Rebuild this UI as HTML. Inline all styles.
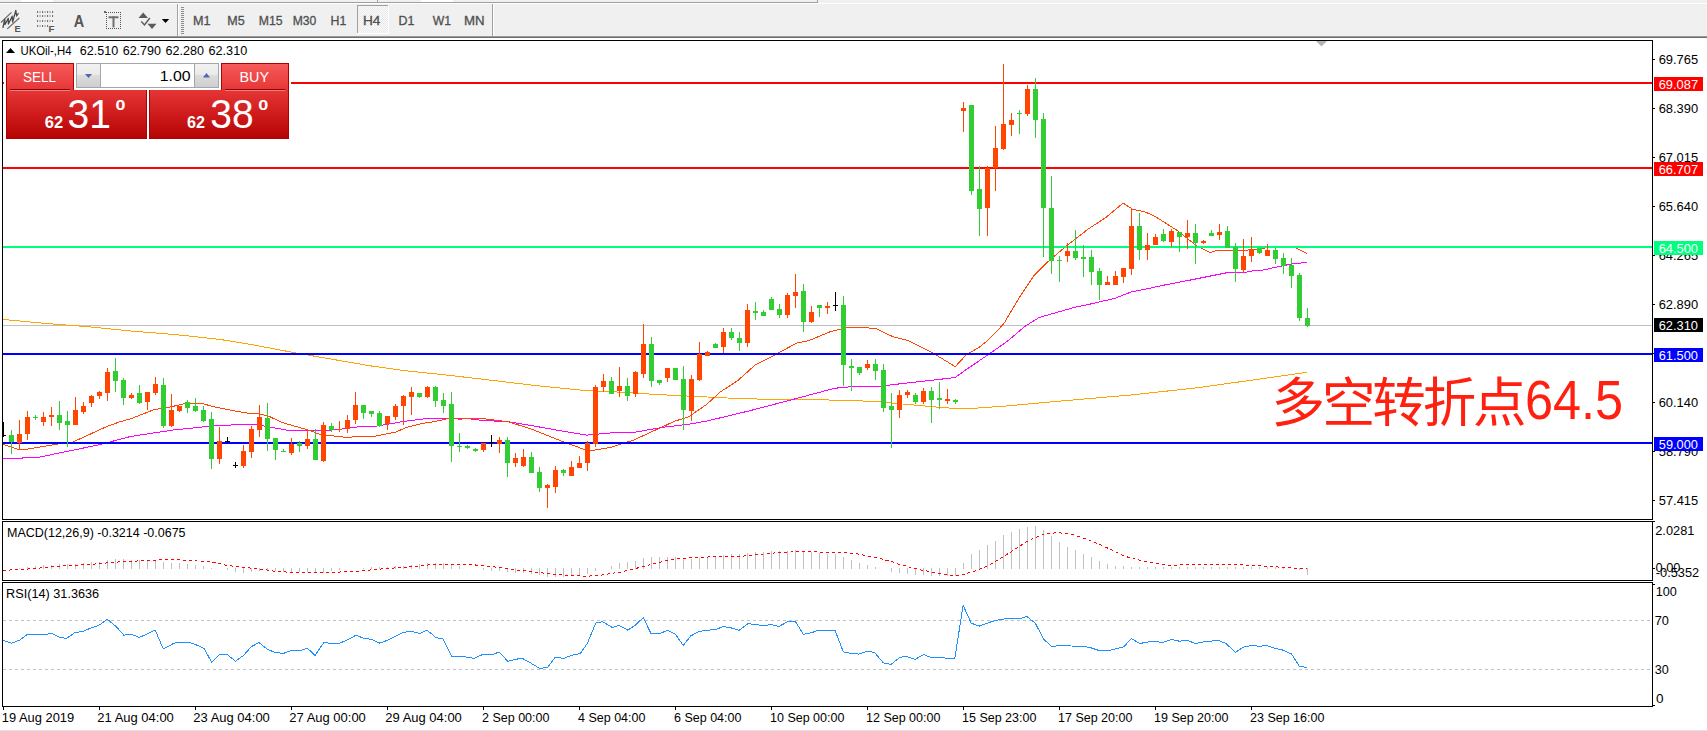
<!DOCTYPE html>
<html><head><meta charset="utf-8"><title>UKOil H4</title>
<style>html,body{margin:0;padding:0;background:#f0f0f0;}body{width:1707px;height:731px;position:relative;overflow:hidden;}</style>
</head><body>
<svg width="1707" height="731" viewBox="0 0 1707 731" style="position:absolute;left:0;top:0" font-family="'Liberation Sans', Arial, sans-serif"><defs><linearGradient id="gTab" x1="0" y1="0" x2="0" y2="1"><stop offset="0" stop-color="#f65a5a"/><stop offset="1" stop-color="#e53535"/></linearGradient><linearGradient id="gBig" x1="0" y1="0" x2="0" y2="1"><stop offset="0" stop-color="#e53636"/><stop offset="0.5" stop-color="#cf1b1b"/><stop offset="1" stop-color="#b50404"/></linearGradient><linearGradient id="gBtn" x1="0" y1="0" x2="0" y2="1"><stop offset="0" stop-color="#f2f2f2"/><stop offset="0.45" stop-color="#ebebeb"/><stop offset="0.5" stop-color="#dcdcdc"/><stop offset="1" stop-color="#cfcfcf"/></linearGradient><pattern id="dith" width="2" height="2" patternUnits="userSpaceOnUse"><rect width="2" height="2" fill="#fbfbfb"/><rect width="1" height="1" fill="#e9e9e9"/><rect x="1" y="1" width="1" height="1" fill="#e9e9e9"/></pattern><clipPath id="clipMain"><rect x="3" y="41" width="1649" height="478"/></clipPath><clipPath id="clipMacd"><rect x="3" y="522" width="1649" height="58"/></clipPath><clipPath id="clipRsi"><rect x="3" y="583" width="1649" height="123"/></clipPath></defs><rect x="0" y="0" width="1707" height="731" fill="#f0f0f0" /><rect x="21" y="0" width="32" height="2" fill="#ffffff" /><rect x="421" y="0" width="32" height="2" fill="#ffffff" /><rect x="0" y="2" width="817" height="1" fill="#a0a0a0" /><rect x="377" y="0" width="1" height="2" fill="#a0a0a0" /><rect x="817" y="0" width="1" height="3" fill="#a0a0a0" /><rect x="0" y="3" width="1707" height="1" fill="#ffffff" /><rect x="0" y="36" width="1707" height="1" fill="#9a9a9a" /><rect x="0" y="37" width="1707" height="1" fill="#6e6e6e" /><rect x="0" y="38" width="1707" height="692" fill="#ffffff" /><rect x="0" y="730" width="1707" height="1" fill="#e3e3e3" /><g clip-path="url(#clipMain)" shape-rendering="crispEdges"><rect x="3" y="325" width="1649" height="1" fill="#c0c0c0" /><polyline points="3.0,319.4 43.9,323.3 87.9,326.7 131.8,331.1 175.7,334.6 219.7,339.4 240.0,342.7 250.0,344.3 295.0,352.8 329.0,358.7 370.0,365.8 402.7,370.4 448.9,375.3 490.0,380.1 533.4,385.3 586.7,390.7 610.0,391.6 656.9,394.5 693.4,396.3 727.4,398.0 768.2,399.4 848.0,400.2 880.3,401.9 902.4,404.0 936.3,407.0 953.3,408.4 975.4,408.2 1006.4,406.0 1069.2,400.3 1134.2,394.7 1199.2,387.5 1264.3,378.4 1306.5,372.4" fill="none" stroke="#ffa500" stroke-width="1" /><polyline points="3.0,458.4 22.0,458.4 23.0,457.4 38.0,457.4 100.0,444.6 120.0,439.3 130.0,436.6 141.3,434.8 173.4,430.0 209.0,426.3 240.0,424.5 256.0,424.5 270.2,427.1 288.0,430.3 325.4,430.7 343.1,428.9 360.0,426.6 377.8,426.0 402.7,421.6 431.1,418.0 463.1,418.0 480.9,420.3 508.5,421.8 533.4,425.9 560.0,430.7 586.7,435.1 610.0,433.0 632.0,432.7 662.2,427.4 690.0,424.0 707.0,421.0 749.5,410.8 792.0,399.7 834.4,388.3 850.0,386.8 880.3,386.1 919.4,381.6 955.0,377.6 965.2,370.3 989.5,353.8 1007.2,341.4 1025.0,326.3 1039.3,317.4 1055.3,312.9 1075.0,307.2 1088.4,304.5 1115.0,298.3 1131.0,292.0 1155.0,287.1 1165.0,284.9 1190.6,280.0 1226.1,272.9 1243.9,272.6 1255.0,270.4 1263.2,270.0 1282.4,265.8 1290.6,264.2 1307.0,262.4" fill="none" stroke="#ff00ff" stroke-width="1" /><polyline points="3.0,444.4 8.0,446.0 12.0,447.3 18.0,449.5 28.0,449.0 60.0,443.7 73.0,442.0 107.0,426.4 120.0,421.8 130.7,418.8 154.7,409.4 168.0,407.6 184.0,403.7 203.6,404.0 216.0,407.2 233.8,410.8 250.0,413.5 259.6,413.8 270.0,416.8 282.7,422.7 307.6,429.8 320.0,434.3 346.7,437.5 360.0,436.3 374.2,436.3 395.6,432.2 406.2,427.4 422.2,423.4 434.7,421.6 448.9,418.4 459.6,419.1 480.0,418.2 494.2,420.0 508.5,421.8 533.4,429.8 560.0,440.5 585.0,449.7 590.0,450.8 610.0,447.6 633.8,440.0 674.7,421.2 688.9,416.7 706.7,404.3 720.0,392.2 737.8,380.6 755.6,364.6 773.4,355.7 796.5,343.2 808.9,340.6 830.3,331.7 847.0,327.5 863.1,327.5 875.6,328.5 893.4,336.9 907.6,340.5 932.5,352.9 955.3,366.6 966.3,354.7 978.8,347.6 987.7,340.5 1003.7,323.9 1019.7,296.9 1033.9,275.6 1047.4,262.2 1067.0,245.4 1088.4,228.9 1106.1,217.3 1123.0,203.1 1132.8,209.3 1145.3,212.0 1155.0,216.4 1178.1,231.1 1195.9,245.3 1210.1,252.5 1217.2,250.2 1242.1,250.2 1254.6,249.8 1265.3,248.0 1295.4,247.8 1307.0,253.5" fill="none" stroke="#ff4500" stroke-width="1" /><rect x="3" y="82" width="1649" height="2" fill="#ff0000" /><rect x="3" y="167" width="1649" height="2" fill="#ff0000" /><rect x="3" y="246" width="1649" height="2" fill="#00ff7f" /><rect x="3" y="353" width="1649" height="2" fill="#0000ff" /><rect x="3" y="442" width="1649" height="2" fill="#0000ff" /><rect x="11" y="430" width="1" height="24" fill="#32cd32" /><rect x="9" y="435" width="5" height="7" fill="#32cd32" /><rect x="19" y="420" width="1" height="29" fill="#ff4500" /><rect x="17" y="434" width="5" height="9" fill="#ff4500" /><rect x="27" y="411" width="1" height="29" fill="#ff4500" /><rect x="25" y="417" width="5" height="17" fill="#ff4500" /><rect x="35" y="415" width="1" height="5" fill="#32cd32" /><rect x="33" y="417" width="5" height="1" fill="#32cd32" /><rect x="43" y="412" width="1" height="14" fill="#ff4500" /><rect x="41" y="417" width="5" height="5" fill="#ff4500" /><rect x="51" y="407" width="1" height="19" fill="#ff4500" /><rect x="49" y="415" width="5" height="2" fill="#ff4500" /><rect x="59" y="401" width="1" height="29" fill="#32cd32" /><rect x="57" y="415" width="5" height="8" fill="#32cd32" /><rect x="67" y="411" width="1" height="36" fill="#32cd32" /><rect x="65" y="421" width="5" height="4" fill="#32cd32" /><rect x="75" y="397" width="1" height="28" fill="#ff4500" /><rect x="73" y="410" width="5" height="15" fill="#ff4500" /><rect x="83" y="402" width="1" height="12" fill="#ff4500" /><rect x="81" y="406" width="5" height="6" fill="#ff4500" /><rect x="91" y="395" width="1" height="12" fill="#ff4500" /><rect x="89" y="396" width="5" height="7" fill="#ff4500" /><rect x="99" y="391" width="1" height="8" fill="#ff4500" /><rect x="97" y="392" width="5" height="4" fill="#ff4500" /><rect x="107" y="368" width="1" height="33" fill="#ff4500" /><rect x="105" y="372" width="5" height="21" fill="#ff4500" /><rect x="115" y="358" width="1" height="34" fill="#32cd32" /><rect x="113" y="371" width="5" height="10" fill="#32cd32" /><rect x="123" y="378" width="1" height="27" fill="#32cd32" /><rect x="121" y="380" width="5" height="18" fill="#32cd32" /><rect x="131" y="393" width="1" height="6" fill="#ff4500" /><rect x="129" y="395" width="5" height="3" fill="#ff4500" /><rect x="139" y="385" width="1" height="19" fill="#32cd32" /><rect x="137" y="393" width="5" height="10" fill="#32cd32" /><rect x="147" y="392" width="1" height="18" fill="#ff4500" /><rect x="145" y="392" width="5" height="10" fill="#ff4500" /><rect x="155" y="377" width="1" height="18" fill="#ff4500" /><rect x="153" y="384" width="5" height="9" fill="#ff4500" /><rect x="163" y="378" width="1" height="50" fill="#32cd32" /><rect x="161" y="385" width="5" height="41" fill="#32cd32" /><rect x="171" y="394" width="1" height="33" fill="#ff4500" /><rect x="169" y="410" width="5" height="16" fill="#ff4500" /><rect x="179" y="406" width="1" height="6" fill="#ff4500" /><rect x="177" y="406" width="5" height="5" fill="#ff4500" /><rect x="187" y="400" width="1" height="13" fill="#32cd32" /><rect x="185" y="402" width="5" height="6" fill="#32cd32" /><rect x="195" y="398" width="1" height="14" fill="#32cd32" /><rect x="193" y="406" width="5" height="5" fill="#32cd32" /><rect x="203" y="406" width="1" height="16" fill="#32cd32" /><rect x="201" y="410" width="5" height="11" fill="#32cd32" /><rect x="211" y="412" width="1" height="57" fill="#32cd32" /><rect x="209" y="419" width="5" height="40" fill="#32cd32" /><rect x="219" y="427" width="1" height="37" fill="#ff4500" /><rect x="217" y="441" width="5" height="18" fill="#ff4500" /><rect x="227" y="437" width="1" height="6" fill="#000000" /><rect x="225" y="441" width="5" height="1" fill="#000000" /><rect x="235" y="462" width="1" height="6" fill="#000000" /><rect x="233" y="465" width="5" height="1" fill="#000000" /><rect x="243" y="445" width="1" height="23" fill="#ff4500" /><rect x="241" y="451" width="5" height="15" fill="#ff4500" /><rect x="251" y="426" width="1" height="32" fill="#ff4500" /><rect x="249" y="429" width="5" height="23" fill="#ff4500" /><rect x="259" y="405" width="1" height="32" fill="#ff4500" /><rect x="257" y="417" width="5" height="13" fill="#ff4500" /><rect x="267" y="403" width="1" height="48" fill="#32cd32" /><rect x="265" y="418" width="5" height="21" fill="#32cd32" /><rect x="275" y="438" width="1" height="22" fill="#32cd32" /><rect x="273" y="438" width="5" height="12" fill="#32cd32" /><rect x="283" y="449" width="1" height="3" fill="#32cd32" /><rect x="281" y="451" width="5" height="1" fill="#32cd32" /><rect x="291" y="438" width="1" height="17" fill="#ff4500" /><rect x="289" y="444" width="5" height="9" fill="#ff4500" /><rect x="299" y="441" width="1" height="11" fill="#32cd32" /><rect x="297" y="443" width="5" height="3" fill="#32cd32" /><rect x="307" y="430" width="1" height="19" fill="#ff4500" /><rect x="305" y="439" width="5" height="7" fill="#ff4500" /><rect x="315" y="429" width="1" height="31" fill="#32cd32" /><rect x="313" y="439" width="5" height="21" fill="#32cd32" /><rect x="323" y="422" width="1" height="40" fill="#ff4500" /><rect x="321" y="425" width="5" height="36" fill="#ff4500" /><rect x="331" y="423" width="1" height="9" fill="#32cd32" /><rect x="329" y="426" width="5" height="4" fill="#32cd32" /><rect x="339" y="421" width="1" height="11" fill="#ff4500" /><rect x="337" y="429" width="5" height="1" fill="#ff4500" /><rect x="347" y="415" width="1" height="18" fill="#ff4500" /><rect x="345" y="420" width="5" height="9" fill="#ff4500" /><rect x="355" y="392" width="1" height="32" fill="#ff4500" /><rect x="353" y="405" width="5" height="15" fill="#ff4500" /><rect x="363" y="405" width="1" height="14" fill="#32cd32" /><rect x="361" y="405" width="5" height="8" fill="#32cd32" /><rect x="371" y="411" width="1" height="6" fill="#32cd32" /><rect x="369" y="411" width="5" height="3" fill="#32cd32" /><rect x="379" y="411" width="1" height="16" fill="#32cd32" /><rect x="377" y="413" width="5" height="13" fill="#32cd32" /><rect x="387" y="416" width="1" height="14" fill="#ff4500" /><rect x="385" y="416" width="5" height="8" fill="#ff4500" /><rect x="395" y="404" width="1" height="16" fill="#ff4500" /><rect x="393" y="406" width="5" height="11" fill="#ff4500" /><rect x="403" y="395" width="1" height="30" fill="#ff4500" /><rect x="401" y="396" width="5" height="10" fill="#ff4500" /><rect x="411" y="387" width="1" height="28" fill="#ff4500" /><rect x="409" y="392" width="5" height="5" fill="#ff4500" /><rect x="419" y="393" width="1" height="5" fill="#32cd32" /><rect x="417" y="393" width="5" height="4" fill="#32cd32" /><rect x="427" y="386" width="1" height="12" fill="#ff4500" /><rect x="425" y="387" width="5" height="10" fill="#ff4500" /><rect x="435" y="386" width="1" height="21" fill="#32cd32" /><rect x="433" y="387" width="5" height="14" fill="#32cd32" /><rect x="443" y="393" width="1" height="20" fill="#32cd32" /><rect x="441" y="400" width="5" height="6" fill="#32cd32" /><rect x="451" y="392" width="1" height="70" fill="#32cd32" /><rect x="449" y="404" width="5" height="42" fill="#32cd32" /><rect x="459" y="433" width="1" height="19" fill="#32cd32" /><rect x="457" y="446" width="5" height="1" fill="#32cd32" /><rect x="467" y="445" width="1" height="4" fill="#32cd32" /><rect x="465" y="446" width="5" height="2" fill="#32cd32" /><rect x="475" y="448" width="1" height="4" fill="#32cd32" /><rect x="473" y="449" width="5" height="2" fill="#32cd32" /><rect x="483" y="443" width="1" height="9" fill="#ff4500" /><rect x="481" y="443" width="5" height="7" fill="#ff4500" /><rect x="491" y="435" width="1" height="12" fill="#000000" /><rect x="489" y="442" width="5" height="1" fill="#000000" /><rect x="499" y="437" width="1" height="16" fill="#ff4500" /><rect x="497" y="440" width="5" height="4" fill="#ff4500" /><rect x="507" y="437" width="1" height="40" fill="#32cd32" /><rect x="505" y="440" width="5" height="23" fill="#32cd32" /><rect x="515" y="453" width="1" height="14" fill="#ff4500" /><rect x="513" y="458" width="5" height="5" fill="#ff4500" /><rect x="523" y="449" width="1" height="18" fill="#ff4500" /><rect x="521" y="457" width="5" height="9" fill="#ff4500" /><rect x="531" y="452" width="1" height="21" fill="#32cd32" /><rect x="529" y="457" width="5" height="16" fill="#32cd32" /><rect x="539" y="467" width="1" height="25" fill="#32cd32" /><rect x="537" y="472" width="5" height="16" fill="#32cd32" /><rect x="547" y="484" width="1" height="24" fill="#ff4500" /><rect x="545" y="485" width="5" height="3" fill="#ff4500" /><rect x="555" y="466" width="1" height="27" fill="#ff4500" /><rect x="553" y="470" width="5" height="17" fill="#ff4500" /><rect x="563" y="469" width="1" height="7" fill="#32cd32" /><rect x="561" y="470" width="5" height="3" fill="#32cd32" /><rect x="571" y="461" width="1" height="15" fill="#ff4500" /><rect x="569" y="467" width="5" height="9" fill="#ff4500" /><rect x="579" y="456" width="1" height="12" fill="#ff4500" /><rect x="577" y="463" width="5" height="5" fill="#ff4500" /><rect x="587" y="441" width="1" height="30" fill="#ff4500" /><rect x="585" y="443" width="5" height="20" fill="#ff4500" /><rect x="595" y="385" width="1" height="62" fill="#ff4500" /><rect x="593" y="387" width="5" height="57" fill="#ff4500" /><rect x="603" y="374" width="1" height="18" fill="#ff4500" /><rect x="601" y="381" width="5" height="6" fill="#ff4500" /><rect x="611" y="377" width="1" height="17" fill="#32cd32" /><rect x="609" y="381" width="5" height="13" fill="#32cd32" /><rect x="619" y="367" width="1" height="30" fill="#ff4500" /><rect x="617" y="386" width="5" height="5" fill="#ff4500" /><rect x="627" y="378" width="1" height="23" fill="#32cd32" /><rect x="625" y="386" width="5" height="10" fill="#32cd32" /><rect x="635" y="371" width="1" height="26" fill="#ff4500" /><rect x="633" y="372" width="5" height="22" fill="#ff4500" /><rect x="643" y="324" width="1" height="54" fill="#ff4500" /><rect x="641" y="344" width="5" height="30" fill="#ff4500" /><rect x="651" y="337" width="1" height="50" fill="#32cd32" /><rect x="649" y="344" width="5" height="37" fill="#32cd32" /><rect x="659" y="380" width="1" height="5" fill="#32cd32" /><rect x="657" y="380" width="5" height="3" fill="#32cd32" /><rect x="667" y="368" width="1" height="14" fill="#ff4500" /><rect x="665" y="368" width="5" height="10" fill="#ff4500" /><rect x="675" y="368" width="1" height="12" fill="#32cd32" /><rect x="673" y="368" width="5" height="12" fill="#32cd32" /><rect x="683" y="366" width="1" height="64" fill="#32cd32" /><rect x="681" y="379" width="5" height="31" fill="#32cd32" /><rect x="691" y="375" width="1" height="46" fill="#ff4500" /><rect x="689" y="379" width="5" height="32" fill="#ff4500" /><rect x="699" y="342" width="1" height="39" fill="#ff4500" /><rect x="697" y="354" width="5" height="26" fill="#ff4500" /><rect x="707" y="351" width="1" height="5" fill="#ff4500" /><rect x="705" y="352" width="5" height="4" fill="#ff4500" /><rect x="715" y="343" width="1" height="5" fill="#32cd32" /><rect x="713" y="344" width="5" height="4" fill="#32cd32" /><rect x="723" y="328" width="1" height="25" fill="#ff4500" /><rect x="721" y="332" width="5" height="15" fill="#ff4500" /><rect x="731" y="328" width="1" height="12" fill="#32cd32" /><rect x="729" y="332" width="5" height="6" fill="#32cd32" /><rect x="739" y="332" width="1" height="19" fill="#32cd32" /><rect x="737" y="338" width="5" height="5" fill="#32cd32" /><rect x="747" y="304" width="1" height="43" fill="#ff4500" /><rect x="745" y="310" width="5" height="33" fill="#ff4500" /><rect x="755" y="302" width="1" height="18" fill="#32cd32" /><rect x="753" y="311" width="5" height="2" fill="#32cd32" /><rect x="763" y="310" width="1" height="6" fill="#32cd32" /><rect x="761" y="312" width="5" height="4" fill="#32cd32" /><rect x="771" y="297" width="1" height="13" fill="#32cd32" /><rect x="769" y="299" width="5" height="11" fill="#32cd32" /><rect x="779" y="304" width="1" height="14" fill="#32cd32" /><rect x="777" y="309" width="5" height="6" fill="#32cd32" /><rect x="787" y="293" width="1" height="25" fill="#ff4500" /><rect x="785" y="295" width="5" height="20" fill="#ff4500" /><rect x="795" y="274" width="1" height="34" fill="#ff4500" /><rect x="793" y="292" width="5" height="4" fill="#ff4500" /><rect x="803" y="284" width="1" height="48" fill="#32cd32" /><rect x="801" y="291" width="5" height="31" fill="#32cd32" /><rect x="811" y="306" width="1" height="17" fill="#ff4500" /><rect x="809" y="312" width="5" height="10" fill="#ff4500" /><rect x="819" y="305" width="1" height="12" fill="#32cd32" /><rect x="817" y="305" width="5" height="3" fill="#32cd32" /><rect x="827" y="302" width="1" height="12" fill="#ff4500" /><rect x="825" y="306" width="5" height="2" fill="#ff4500" /><rect x="835" y="292" width="1" height="19" fill="#000000" /><rect x="833" y="305" width="5" height="1" fill="#000000" /><rect x="843" y="296" width="1" height="90" fill="#32cd32" /><rect x="841" y="305" width="5" height="60" fill="#32cd32" /><rect x="851" y="359" width="1" height="32" fill="#32cd32" /><rect x="849" y="366" width="5" height="2" fill="#32cd32" /><rect x="859" y="367" width="1" height="8" fill="#32cd32" /><rect x="857" y="367" width="5" height="6" fill="#32cd32" /><rect x="867" y="360" width="1" height="10" fill="#ff4500" /><rect x="865" y="364" width="5" height="4" fill="#ff4500" /><rect x="875" y="359" width="1" height="21" fill="#32cd32" /><rect x="873" y="364" width="5" height="7" fill="#32cd32" /><rect x="883" y="364" width="1" height="48" fill="#32cd32" /><rect x="881" y="370" width="5" height="38" fill="#32cd32" /><rect x="891" y="393" width="1" height="55" fill="#32cd32" /><rect x="889" y="406" width="5" height="4" fill="#32cd32" /><rect x="899" y="390" width="1" height="28" fill="#ff4500" /><rect x="897" y="395" width="5" height="15" fill="#ff4500" /><rect x="907" y="390" width="1" height="8" fill="#ff4500" /><rect x="905" y="392" width="5" height="3" fill="#ff4500" /><rect x="915" y="393" width="1" height="11" fill="#32cd32" /><rect x="913" y="395" width="5" height="7" fill="#32cd32" /><rect x="923" y="388" width="1" height="16" fill="#ff4500" /><rect x="921" y="391" width="5" height="11" fill="#ff4500" /><rect x="931" y="387" width="1" height="36" fill="#32cd32" /><rect x="929" y="391" width="5" height="9" fill="#32cd32" /><rect x="939" y="382" width="1" height="27" fill="#32cd32" /><rect x="937" y="398" width="5" height="2" fill="#32cd32" /><rect x="947" y="389" width="1" height="15" fill="#ff4500" /><rect x="945" y="399" width="5" height="2" fill="#ff4500" /><rect x="955" y="399" width="1" height="5" fill="#32cd32" /><rect x="953" y="400" width="5" height="2" fill="#32cd32" /><rect x="963" y="102" width="1" height="30" fill="#ff4500" /><rect x="961" y="108" width="5" height="3" fill="#ff4500" /><rect x="971" y="105" width="1" height="90" fill="#32cd32" /><rect x="969" y="105" width="5" height="86" fill="#32cd32" /><rect x="979" y="166" width="1" height="70" fill="#32cd32" /><rect x="977" y="189" width="5" height="20" fill="#32cd32" /><rect x="987" y="166" width="1" height="70" fill="#ff4500" /><rect x="985" y="168" width="5" height="40" fill="#ff4500" /><rect x="995" y="126" width="1" height="65" fill="#ff4500" /><rect x="993" y="148" width="5" height="20" fill="#ff4500" /><rect x="1003" y="64" width="1" height="86" fill="#ff4500" /><rect x="1001" y="124" width="5" height="25" fill="#ff4500" /><rect x="1011" y="113" width="1" height="23" fill="#ff4500" /><rect x="1009" y="120" width="5" height="5" fill="#ff4500" /><rect x="1019" y="110" width="1" height="24" fill="#32cd32" /><rect x="1017" y="113" width="5" height="1" fill="#32cd32" /><rect x="1027" y="85" width="1" height="31" fill="#ff4500" /><rect x="1025" y="89" width="5" height="25" fill="#ff4500" /><rect x="1035" y="78" width="1" height="60" fill="#32cd32" /><rect x="1033" y="89" width="5" height="31" fill="#32cd32" /><rect x="1043" y="113" width="1" height="144" fill="#32cd32" /><rect x="1041" y="119" width="5" height="89" fill="#32cd32" /><rect x="1051" y="176" width="1" height="98" fill="#32cd32" /><rect x="1049" y="208" width="5" height="53" fill="#32cd32" /><rect x="1059" y="256" width="1" height="26" fill="#32cd32" /><rect x="1057" y="260" width="5" height="1" fill="#32cd32" /><rect x="1067" y="243" width="1" height="19" fill="#ff4500" /><rect x="1065" y="251" width="5" height="5" fill="#ff4500" /><rect x="1075" y="230" width="1" height="30" fill="#32cd32" /><rect x="1073" y="251" width="5" height="7" fill="#32cd32" /><rect x="1083" y="245" width="1" height="32" fill="#32cd32" /><rect x="1081" y="257" width="5" height="2" fill="#32cd32" /><rect x="1091" y="250" width="1" height="35" fill="#32cd32" /><rect x="1089" y="257" width="5" height="15" fill="#32cd32" /><rect x="1099" y="268" width="1" height="32" fill="#32cd32" /><rect x="1097" y="271" width="5" height="14" fill="#32cd32" /><rect x="1107" y="276" width="1" height="9" fill="#ff4500" /><rect x="1105" y="282" width="5" height="3" fill="#ff4500" /><rect x="1115" y="271" width="1" height="14" fill="#ff4500" /><rect x="1113" y="276" width="5" height="9" fill="#ff4500" /><rect x="1123" y="268" width="1" height="15" fill="#ff4500" /><rect x="1121" y="268" width="5" height="9" fill="#ff4500" /><rect x="1131" y="208" width="1" height="67" fill="#ff4500" /><rect x="1129" y="226" width="5" height="43" fill="#ff4500" /><rect x="1139" y="213" width="1" height="47" fill="#32cd32" /><rect x="1137" y="226" width="5" height="24" fill="#32cd32" /><rect x="1147" y="233" width="1" height="27" fill="#ff4500" /><rect x="1145" y="245" width="5" height="5" fill="#ff4500" /><rect x="1155" y="234" width="1" height="11" fill="#ff4500" /><rect x="1153" y="237" width="5" height="8" fill="#ff4500" /><rect x="1163" y="229" width="1" height="13" fill="#32cd32" /><rect x="1161" y="234" width="5" height="7" fill="#32cd32" /><rect x="1171" y="229" width="1" height="18" fill="#ff4500" /><rect x="1169" y="231" width="5" height="11" fill="#ff4500" /><rect x="1179" y="232" width="1" height="20" fill="#32cd32" /><rect x="1177" y="232" width="5" height="5" fill="#32cd32" /><rect x="1187" y="220" width="1" height="29" fill="#ff4500" /><rect x="1185" y="233" width="5" height="4" fill="#ff4500" /><rect x="1195" y="224" width="1" height="40" fill="#32cd32" /><rect x="1193" y="233" width="5" height="10" fill="#32cd32" /><rect x="1203" y="240" width="1" height="4" fill="#ff4500" /><rect x="1201" y="241" width="5" height="2" fill="#ff4500" /><rect x="1211" y="230" width="1" height="6" fill="#32cd32" /><rect x="1209" y="233" width="5" height="3" fill="#32cd32" /><rect x="1219" y="224" width="1" height="16" fill="#ff4500" /><rect x="1217" y="232" width="5" height="3" fill="#ff4500" /><rect x="1227" y="226" width="1" height="22" fill="#32cd32" /><rect x="1225" y="231" width="5" height="17" fill="#32cd32" /><rect x="1235" y="243" width="1" height="39" fill="#32cd32" /><rect x="1233" y="247" width="5" height="22" fill="#32cd32" /><rect x="1243" y="239" width="1" height="34" fill="#ff4500" /><rect x="1241" y="256" width="5" height="14" fill="#ff4500" /><rect x="1251" y="237" width="1" height="25" fill="#ff4500" /><rect x="1249" y="249" width="5" height="7" fill="#ff4500" /><rect x="1259" y="247" width="1" height="7" fill="#32cd32" /><rect x="1257" y="248" width="5" height="5" fill="#32cd32" /><rect x="1267" y="244" width="1" height="12" fill="#ff4500" /><rect x="1265" y="250" width="5" height="6" fill="#ff4500" /><rect x="1275" y="248" width="1" height="16" fill="#32cd32" /><rect x="1273" y="250" width="5" height="9" fill="#32cd32" /><rect x="1283" y="253" width="1" height="21" fill="#32cd32" /><rect x="1281" y="258" width="5" height="8" fill="#32cd32" /><rect x="1291" y="258" width="1" height="30" fill="#32cd32" /><rect x="1289" y="265" width="5" height="11" fill="#32cd32" /><rect x="1299" y="273" width="1" height="48" fill="#32cd32" /><rect x="1297" y="275" width="5" height="43" fill="#32cd32" /><rect x="1307" y="308" width="1" height="19" fill="#32cd32" /><rect x="1305" y="318" width="5" height="8" fill="#32cd32" /><rect x="3" y="422" width="1" height="15" fill="#000" /><rect x="3" y="435" width="3" height="1" fill="#000" /></g><polygon points="1316,41 1327,41 1321.5,46.5" fill="#b4b4b4"/><g clip-path="url(#clipMacd)" shape-rendering="crispEdges"><rect x="19" y="568" width="1" height="1" fill="#c0c0c0" /><rect x="27" y="567" width="1" height="2" fill="#c0c0c0" /><rect x="35" y="566" width="1" height="3" fill="#c0c0c0" /><rect x="43" y="565" width="1" height="4" fill="#c0c0c0" /><rect x="51" y="565" width="1" height="4" fill="#c0c0c0" /><rect x="59" y="564" width="1" height="5" fill="#c0c0c0" /><rect x="67" y="564" width="1" height="5" fill="#c0c0c0" /><rect x="75" y="564" width="1" height="5" fill="#c0c0c0" /><rect x="83" y="563" width="1" height="6" fill="#c0c0c0" /><rect x="91" y="562" width="1" height="7" fill="#c0c0c0" /><rect x="99" y="562" width="1" height="7" fill="#c0c0c0" /><rect x="107" y="560" width="1" height="9" fill="#c0c0c0" /><rect x="115" y="559" width="1" height="10" fill="#c0c0c0" /><rect x="123" y="559" width="1" height="10" fill="#c0c0c0" /><rect x="131" y="560" width="1" height="9" fill="#c0c0c0" /><rect x="139" y="560" width="1" height="9" fill="#c0c0c0" /><rect x="147" y="560" width="1" height="9" fill="#c0c0c0" /><rect x="155" y="560" width="1" height="9" fill="#c0c0c0" /><rect x="163" y="562" width="1" height="7" fill="#c0c0c0" /><rect x="171" y="563" width="1" height="6" fill="#c0c0c0" /><rect x="179" y="563" width="1" height="6" fill="#c0c0c0" /><rect x="187" y="564" width="1" height="5" fill="#c0c0c0" /><rect x="195" y="565" width="1" height="4" fill="#c0c0c0" /><rect x="203" y="566" width="1" height="3" fill="#c0c0c0" /><rect x="211" y="568" width="1" height="1" fill="#c0c0c0" /><rect x="227" y="568" width="1" height="2" fill="#c0c0c0" /><rect x="235" y="568" width="1" height="4" fill="#c0c0c0" /><rect x="243" y="568" width="1" height="5" fill="#c0c0c0" /><rect x="251" y="568" width="1" height="4" fill="#c0c0c0" /><rect x="259" y="568" width="1" height="3" fill="#c0c0c0" /><rect x="267" y="568" width="1" height="2" fill="#c0c0c0" /><rect x="275" y="568" width="1" height="3" fill="#c0c0c0" /><rect x="283" y="568" width="1" height="4" fill="#c0c0c0" /><rect x="291" y="568" width="1" height="5" fill="#c0c0c0" /><rect x="299" y="568" width="1" height="4" fill="#c0c0c0" /><rect x="307" y="568" width="1" height="4" fill="#c0c0c0" /><rect x="315" y="568" width="1" height="5" fill="#c0c0c0" /><rect x="323" y="568" width="1" height="5" fill="#c0c0c0" /><rect x="331" y="568" width="1" height="3" fill="#c0c0c0" /><rect x="339" y="568" width="1" height="2" fill="#c0c0c0" /><rect x="363" y="568" width="1" height="1" fill="#c0c0c0" /><rect x="371" y="567" width="1" height="2" fill="#c0c0c0" /><rect x="379" y="567" width="1" height="2" fill="#c0c0c0" /><rect x="387" y="567" width="1" height="2" fill="#c0c0c0" /><rect x="395" y="566" width="1" height="3" fill="#c0c0c0" /><rect x="403" y="566" width="1" height="3" fill="#c0c0c0" /><rect x="411" y="565" width="1" height="4" fill="#c0c0c0" /><rect x="419" y="564" width="1" height="5" fill="#c0c0c0" /><rect x="427" y="563" width="1" height="6" fill="#c0c0c0" /><rect x="435" y="563" width="1" height="6" fill="#c0c0c0" /><rect x="443" y="563" width="1" height="6" fill="#c0c0c0" /><rect x="451" y="565" width="1" height="4" fill="#c0c0c0" /><rect x="459" y="566" width="1" height="3" fill="#c0c0c0" /><rect x="483" y="568" width="1" height="2" fill="#c0c0c0" /><rect x="491" y="568" width="1" height="3" fill="#c0c0c0" /><rect x="499" y="568" width="1" height="3" fill="#c0c0c0" /><rect x="507" y="568" width="1" height="4" fill="#c0c0c0" /><rect x="515" y="568" width="1" height="5" fill="#c0c0c0" /><rect x="523" y="568" width="1" height="5" fill="#c0c0c0" /><rect x="531" y="568" width="1" height="6" fill="#c0c0c0" /><rect x="539" y="568" width="1" height="7" fill="#c0c0c0" /><rect x="547" y="568" width="1" height="9" fill="#c0c0c0" /><rect x="555" y="568" width="1" height="9" fill="#c0c0c0" /><rect x="563" y="568" width="1" height="9" fill="#c0c0c0" /><rect x="571" y="568" width="1" height="8" fill="#c0c0c0" /><rect x="579" y="568" width="1" height="8" fill="#c0c0c0" /><rect x="587" y="568" width="1" height="6" fill="#c0c0c0" /><rect x="595" y="568" width="1" height="3" fill="#c0c0c0" /><rect x="611" y="566" width="1" height="3" fill="#c0c0c0" /><rect x="619" y="563" width="1" height="6" fill="#c0c0c0" /><rect x="627" y="562" width="1" height="7" fill="#c0c0c0" /><rect x="635" y="561" width="1" height="8" fill="#c0c0c0" /><rect x="643" y="558" width="1" height="11" fill="#c0c0c0" /><rect x="651" y="557" width="1" height="12" fill="#c0c0c0" /><rect x="659" y="557" width="1" height="12" fill="#c0c0c0" /><rect x="667" y="557" width="1" height="12" fill="#c0c0c0" /><rect x="675" y="557" width="1" height="12" fill="#c0c0c0" /><rect x="683" y="558" width="1" height="11" fill="#c0c0c0" /><rect x="691" y="559" width="1" height="10" fill="#c0c0c0" /><rect x="699" y="558" width="1" height="11" fill="#c0c0c0" /><rect x="707" y="558" width="1" height="11" fill="#c0c0c0" /><rect x="715" y="556" width="1" height="13" fill="#c0c0c0" /><rect x="723" y="555" width="1" height="14" fill="#c0c0c0" /><rect x="731" y="554" width="1" height="15" fill="#c0c0c0" /><rect x="739" y="554" width="1" height="15" fill="#c0c0c0" /><rect x="747" y="553" width="1" height="16" fill="#c0c0c0" /><rect x="755" y="552" width="1" height="17" fill="#c0c0c0" /><rect x="763" y="552" width="1" height="17" fill="#c0c0c0" /><rect x="771" y="551" width="1" height="18" fill="#c0c0c0" /><rect x="779" y="551" width="1" height="18" fill="#c0c0c0" /><rect x="787" y="551" width="1" height="18" fill="#c0c0c0" /><rect x="795" y="550" width="1" height="19" fill="#c0c0c0" /><rect x="803" y="551" width="1" height="18" fill="#c0c0c0" /><rect x="811" y="552" width="1" height="17" fill="#c0c0c0" /><rect x="819" y="553" width="1" height="16" fill="#c0c0c0" /><rect x="827" y="554" width="1" height="15" fill="#c0c0c0" /><rect x="835" y="554" width="1" height="15" fill="#c0c0c0" /><rect x="843" y="557" width="1" height="12" fill="#c0c0c0" /><rect x="851" y="560" width="1" height="9" fill="#c0c0c0" /><rect x="859" y="563" width="1" height="6" fill="#c0c0c0" /><rect x="867" y="565" width="1" height="4" fill="#c0c0c0" /><rect x="875" y="567" width="1" height="2" fill="#c0c0c0" /><rect x="891" y="568" width="1" height="4" fill="#c0c0c0" /><rect x="899" y="568" width="1" height="5" fill="#c0c0c0" /><rect x="907" y="568" width="1" height="6" fill="#c0c0c0" /><rect x="915" y="568" width="1" height="7" fill="#c0c0c0" /><rect x="923" y="568" width="1" height="7" fill="#c0c0c0" /><rect x="931" y="568" width="1" height="8" fill="#c0c0c0" /><rect x="939" y="568" width="1" height="8" fill="#c0c0c0" /><rect x="947" y="568" width="1" height="8" fill="#c0c0c0" /><rect x="955" y="568" width="1" height="8" fill="#c0c0c0" /><rect x="963" y="563" width="1" height="6" fill="#c0c0c0" /><rect x="971" y="554" width="1" height="15" fill="#c0c0c0" /><rect x="979" y="550" width="1" height="19" fill="#c0c0c0" /><rect x="987" y="545" width="1" height="24" fill="#c0c0c0" /><rect x="995" y="541" width="1" height="28" fill="#c0c0c0" /><rect x="1003" y="535" width="1" height="34" fill="#c0c0c0" /><rect x="1011" y="532" width="1" height="37" fill="#c0c0c0" /><rect x="1019" y="529" width="1" height="40" fill="#c0c0c0" /><rect x="1027" y="527" width="1" height="42" fill="#c0c0c0" /><rect x="1035" y="526" width="1" height="43" fill="#c0c0c0" /><rect x="1043" y="530" width="1" height="39" fill="#c0c0c0" /><rect x="1051" y="536" width="1" height="33" fill="#c0c0c0" /><rect x="1059" y="542" width="1" height="27" fill="#c0c0c0" /><rect x="1067" y="547" width="1" height="22" fill="#c0c0c0" /><rect x="1075" y="550" width="1" height="19" fill="#c0c0c0" /><rect x="1083" y="554" width="1" height="15" fill="#c0c0c0" /><rect x="1091" y="557" width="1" height="12" fill="#c0c0c0" /><rect x="1099" y="561" width="1" height="8" fill="#c0c0c0" /><rect x="1107" y="564" width="1" height="5" fill="#c0c0c0" /><rect x="1115" y="566" width="1" height="3" fill="#c0c0c0" /><rect x="1123" y="566" width="1" height="3" fill="#c0c0c0" /><rect x="1131" y="567" width="1" height="2" fill="#c0c0c0" /><rect x="1139" y="567" width="1" height="2" fill="#c0c0c0" /><rect x="1147" y="567" width="1" height="2" fill="#c0c0c0" /><rect x="1155" y="567" width="1" height="2" fill="#c0c0c0" /><rect x="1163" y="567" width="1" height="2" fill="#c0c0c0" /><rect x="1171" y="567" width="1" height="2" fill="#c0c0c0" /><rect x="1179" y="567" width="1" height="2" fill="#c0c0c0" /><rect x="1187" y="567" width="1" height="2" fill="#c0c0c0" /><rect x="1195" y="567" width="1" height="2" fill="#c0c0c0" /><rect x="1203" y="567" width="1" height="2" fill="#c0c0c0" /><rect x="1211" y="567" width="1" height="2" fill="#c0c0c0" /><rect x="1219" y="567" width="1" height="2" fill="#c0c0c0" /><rect x="1227" y="567" width="1" height="2" fill="#c0c0c0" /><rect x="1235" y="567" width="1" height="2" fill="#c0c0c0" /><rect x="1243" y="567" width="1" height="2" fill="#c0c0c0" /><rect x="1251" y="567" width="1" height="2" fill="#c0c0c0" /><rect x="1259" y="567" width="1" height="2" fill="#c0c0c0" /><rect x="1267" y="567" width="1" height="2" fill="#c0c0c0" /><rect x="1275" y="567" width="1" height="2" fill="#c0c0c0" /><rect x="1283" y="567" width="1" height="2" fill="#c0c0c0" /><rect x="1299" y="568" width="1" height="2" fill="#c0c0c0" /><rect x="1307" y="568" width="1" height="7" fill="#c0c0c0" /><polyline points="3.0,570.4 30.0,568.9 60.0,566.2 90.0,564.4 119.5,561.9 149.4,560.4 168.3,559.4 189.9,560.4 214.8,562.4 226.8,565.4 244.7,567.4 264.6,569.6 275.0,571.4 292.7,572.4 333.0,572.4 357.9,571.1 381.8,568.9 405.7,567.1 429.6,564.9 439.6,564.2 469.4,564.4 479.4,565.4 499.3,567.4 521.0,570.6 531.5,571.5 544.7,573.2 557.9,574.5 571.0,575.5 586.0,576.3 597.4,575.5 604.4,574.8 610.6,573.3 619.4,572.5 628.4,570.2 634.0,568.6 641.1,567.4 646.7,565.6 652.3,564.2 659.4,562.5 665.0,561.1 670.6,559.7 679.1,558.6 690.3,557.6 704.4,557.2 715.6,556.6 741.0,556.5 746.6,555.5 760.6,554.3 766.3,553.6 777.5,552.7 788.8,552.4 794.4,551.3 845.0,552.7 853.5,553.5 861.4,554.4 868.4,556.5 880.4,558.4 886.7,560.4 892.3,561.8 898.3,564.3 904.3,565.5 910.6,567.4 916.3,568.5 922.6,570.4 928.9,571.3 934.5,572.5 940.2,573.6 946.5,574.5 952.8,575.5 957.7,575.2 964.1,574.3 970.4,572.3 976.7,570.4 990.0,564.7 1009.3,552.9 1028.7,540.4 1044.1,534.0 1057.7,532.6 1073.1,534.6 1090.5,540.4 1109.9,549.1 1125.3,556.4 1144.6,561.6 1167.8,565.5 1202.6,564.1 1241.3,564.9 1270.3,566.5 1307.0,569.0" fill="none" stroke="#ff0000" stroke-width="1" stroke-dasharray="3,3"/></g><g clip-path="url(#clipRsi)" shape-rendering="crispEdges"><line x1="3" y1="620.5" x2="1652" y2="620.5" stroke="#c0c0c0" stroke-dasharray="3,3"/><line x1="3" y1="669.5" x2="1652" y2="669.5" stroke="#c0c0c0" stroke-dasharray="3,3"/><polyline points="3.0,640.3 11.6,643.2 19.3,640.3 27.1,634.6 46.4,634.6 51.2,633.2 59.9,637.4 66.7,638.4 74.4,632.8 83.1,631.3 90.9,628.0 98.6,625.5 107.3,619.3 116.0,626.4 123.7,635.1 131.5,634.4 139.2,637.4 146.9,634.2 155.2,630.1 163.3,649.0 174.0,643.2 179.8,642.3 188.5,642.3 195.2,644.4 203.9,648.3 211.7,662.2 219.4,654.5 227.1,654.5 235.5,661.2 243.6,655.4 251.3,646.7 259.0,642.5 267.7,649.6 274.5,652.1 283.2,653.5 290.9,650.6 299.6,650.6 307.4,648.3 315.1,655.4 323.8,642.5 330.0,643.2 339.7,643.2 347.4,640.0 356.1,635.1 363.8,638.4 371.6,639.4 379.9,643.2 388.0,640.0 395.7,636.1 403.5,632.4 411.2,631.3 419.9,633.6 427.0,630.1 435.9,637.5 443.1,639.0 451.8,656.4 462.4,656.4 474.0,658.3 482.7,654.5 492.4,654.5 499.1,652.1 507.8,661.2 515.6,659.3 522.3,658.3 531.0,663.2 539.7,668.4 547.5,667.4 555.2,657.4 563.9,658.3 571.6,655.4 580.3,653.5 587.1,643.8 595.8,623.1 602.6,621.6 612.2,627.4 619.0,625.5 627.7,630.1 635.4,625.1 643.2,617.7 650.9,633.2 660.0,633.5 667.3,630.3 675.1,633.8 683.2,645.4 690.9,635.8 699.6,631.3 706.4,630.3 716.1,629.4 723.4,626.5 731.5,628.0 739.3,630.3 748.0,623.6 755.7,624.6 763.4,625.5 771.2,624.6 778.9,626.5 787.6,621.7 795.3,621.3 803.4,634.4 810.8,632.9 818.5,630.3 835.0,630.3 843.3,651.8 850.4,653.2 859.1,654.1 867.8,651.2 874.6,652.6 883.3,662.8 891.0,664.4 899.7,657.4 906.5,656.4 915.2,659.3 923.9,654.5 930.6,657.4 954.8,658.4 963.1,605.4 971.2,623.2 979.3,626.1 990.0,622.2 995.8,620.3 1007.4,618.4 1020.9,618.4 1026.7,616.4 1035.4,623.2 1043.2,638.7 1051.5,646.4 1063.5,645.4 1071.2,646.0 1084.7,646.4 1090.5,647.7 1098.3,650.3 1109.9,650.3 1123.4,647.0 1131.5,638.7 1139.8,643.5 1147.5,642.1 1154.3,641.2 1162.0,642.5 1171.7,639.6 1179.4,641.2 1187.2,640.2 1194.9,643.5 1202.6,642.1 1210.4,641.2 1218.1,640.2 1225.9,643.5 1235.5,652.2 1244.2,646.8 1251.9,645.4 1259.7,646.4 1266.4,645.4 1275.1,648.3 1283.8,650.3 1291.6,654.1 1299.3,666.1 1307.0,667.7" fill="none" stroke="#1e90ff" stroke-width="1" /></g><g shape-rendering="crispEdges"><rect x="2" y="40" width="1651" height="1" fill="#000" /><rect x="2" y="519" width="1651" height="1" fill="#000" /><rect x="2" y="40" width="1" height="480" fill="#000" /><rect x="1652" y="40" width="1" height="480" fill="#000" /><rect x="2" y="521" width="1651" height="1" fill="#000" /><rect x="2" y="580" width="1651" height="1" fill="#000" /><rect x="2" y="521" width="1" height="60" fill="#000" /><rect x="1652" y="521" width="1" height="60" fill="#000" /><rect x="2" y="582" width="1651" height="1" fill="#000" /><rect x="2" y="706" width="1651" height="1" fill="#000" /><rect x="2" y="582" width="1" height="125" fill="#000" /><rect x="1652" y="582" width="1" height="125" fill="#000" /><rect x="1653" y="59" width="2" height="1" fill="#000" /><rect x="1653" y="108" width="2" height="1" fill="#000" /><rect x="1653" y="157" width="2" height="1" fill="#000" /><rect x="1653" y="206" width="2" height="1" fill="#000" /><rect x="1653" y="255" width="2" height="1" fill="#000" /><rect x="1653" y="304" width="2" height="1" fill="#000" /><rect x="1653" y="353" width="2" height="1" fill="#000" /><rect x="1653" y="402" width="2" height="1" fill="#000" /><rect x="1653" y="451" width="2" height="1" fill="#000" /><rect x="1653" y="500" width="2" height="1" fill="#000" /><rect x="1653" y="521" width="2" height="1" fill="#000" /><rect x="1653" y="568" width="2" height="1" fill="#000" /><rect x="1653" y="584" width="2" height="1" fill="#000" /><rect x="1653" y="705" width="2" height="1" fill="#000" /><rect x="3" y="707" width="1" height="3" fill="#000" /><rect x="99" y="707" width="1" height="3" fill="#000" /><rect x="195" y="707" width="1" height="3" fill="#000" /><rect x="291" y="707" width="1" height="3" fill="#000" /><rect x="387" y="707" width="1" height="3" fill="#000" /><rect x="483" y="707" width="1" height="3" fill="#000" /><rect x="579" y="707" width="1" height="3" fill="#000" /><rect x="675" y="707" width="1" height="3" fill="#000" /><rect x="771" y="707" width="1" height="3" fill="#000" /><rect x="867" y="707" width="1" height="3" fill="#000" /><rect x="963" y="707" width="1" height="3" fill="#000" /><rect x="1059" y="707" width="1" height="3" fill="#000" /><rect x="1155" y="707" width="1" height="3" fill="#000" /><rect x="1251" y="707" width="1" height="3" fill="#000" /></g><text x="1658.65" y="63.9" font-size="13" fill="#000" textLength="39.55" lengthAdjust="spacingAndGlyphs" >69.765</text><text x="1658.65" y="112.9" font-size="13" fill="#000" textLength="39.48" lengthAdjust="spacingAndGlyphs" >68.390</text><text x="1658.65" y="161.9" font-size="13" fill="#000" textLength="39.55" lengthAdjust="spacingAndGlyphs" >67.015</text><text x="1658.65" y="210.9" font-size="13" fill="#000" textLength="39.48" lengthAdjust="spacingAndGlyphs" >65.640</text><text x="1658.65" y="259.9" font-size="13" fill="#000" textLength="39.55" lengthAdjust="spacingAndGlyphs" >64.265</text><text x="1658.65" y="308.9" font-size="13" fill="#000" textLength="39.48" lengthAdjust="spacingAndGlyphs" >62.890</text><text x="1658.65" y="406.9" font-size="13" fill="#000" textLength="39.48" lengthAdjust="spacingAndGlyphs" >60.140</text><text x="1658.79" y="455.9" font-size="13" fill="#000" textLength="39.35" lengthAdjust="spacingAndGlyphs" >58.790</text><text x="1658.78" y="504.9" font-size="13" fill="#000" textLength="39.41" lengthAdjust="spacingAndGlyphs" >57.415</text><rect x="1654" y="77" width="49" height="14" fill="#ff0000" shape-rendering="crispEdges"/><text x="1658.65" y="88.8" font-size="13" fill="#ffffff" textLength="39.47" lengthAdjust="spacingAndGlyphs" >69.087</text><rect x="1654" y="162" width="49" height="14" fill="#ff0000" shape-rendering="crispEdges"/><text x="1658.65" y="173.8" font-size="13" fill="#ffffff" textLength="39.47" lengthAdjust="spacingAndGlyphs" >66.707</text><rect x="1654" y="241" width="49" height="14" fill="#00ff7f" shape-rendering="crispEdges"/><text x="1658.66" y="252.8" font-size="13" fill="#ffffff" textLength="39.27" lengthAdjust="spacingAndGlyphs" >64.500</text><rect x="1654" y="318" width="49" height="14" fill="#000000" shape-rendering="crispEdges"/><text x="1658.66" y="329.8" font-size="13" fill="#ffffff" textLength="39.27" lengthAdjust="spacingAndGlyphs" >62.310</text><rect x="1654" y="348" width="49" height="14" fill="#0000ff" shape-rendering="crispEdges"/><text x="1658.66" y="359.8" font-size="13" fill="#ffffff" textLength="39.27" lengthAdjust="spacingAndGlyphs" >61.500</text><rect x="1654" y="437" width="49" height="14" fill="#0000ff" shape-rendering="crispEdges"/><text x="1658.79" y="448.8" font-size="13" fill="#ffffff" textLength="39.14" lengthAdjust="spacingAndGlyphs" >59.000</text><text x="1655.26" y="534.6" font-size="13" fill="#000" textLength="39.10" lengthAdjust="spacingAndGlyphs" >2.0281</text><text x="1655.49" y="572" font-size="13" fill="#000" textLength="24.98" lengthAdjust="spacingAndGlyphs" >0.00</text><text x="1655.83" y="576.6" font-size="13" fill="#000" textLength="43.34" lengthAdjust="spacingAndGlyphs" >-0.5352</text><text x="1655.75" y="596" font-size="13" fill="#000" textLength="21.14" lengthAdjust="spacingAndGlyphs" >100</text><text x="1654.66" y="625" font-size="13" fill="#000" textLength="14.22" lengthAdjust="spacingAndGlyphs" >70</text><text x="1654.79" y="674" font-size="13" fill="#000" textLength="14.08" lengthAdjust="spacingAndGlyphs" >30</text><text x="1655.96" y="703" font-size="13" fill="#000" textLength="7.53" lengthAdjust="spacingAndGlyphs" >0</text><text x="1.83" y="722" font-size="12.7" fill="#000" textLength="72.37" lengthAdjust="spacingAndGlyphs" >19 Aug 2019</text><text x="97.35" y="722" font-size="12.7" fill="#000" textLength="76.50" lengthAdjust="spacingAndGlyphs" >21 Aug 04:00</text><text x="193.35" y="722" font-size="12.7" fill="#000" textLength="76.50" lengthAdjust="spacingAndGlyphs" >23 Aug 04:00</text><text x="289.35" y="722" font-size="12.7" fill="#000" textLength="76.50" lengthAdjust="spacingAndGlyphs" >27 Aug 00:00</text><text x="385.35" y="722" font-size="12.7" fill="#000" textLength="76.50" lengthAdjust="spacingAndGlyphs" >29 Aug 04:00</text><text x="482" y="722" font-size="12.5" fill="#000" >2 Sep 00:00</text><text x="578" y="722" font-size="12.5" fill="#000" >4 Sep 04:00</text><text x="674" y="722" font-size="12.5" fill="#000" >6 Sep 04:00</text><text x="770" y="722" font-size="12.5" fill="#000" >10 Sep 00:00</text><text x="866" y="722" font-size="12.5" fill="#000" >12 Sep 00:00</text><text x="962" y="722" font-size="12.5" fill="#000" >15 Sep 23:00</text><text x="1058" y="722" font-size="12.5" fill="#000" >17 Sep 20:00</text><text x="1154" y="722" font-size="12.5" fill="#000" >19 Sep 20:00</text><text x="1250" y="722" font-size="12.5" fill="#000" >23 Sep 16:00</text><text x="7" y="537" font-size="12.5" fill="#000" >MACD(12,26,9) -0.3214 -0.0675</text><text x="6.09" y="598" font-size="12.5" fill="#000" textLength="93.06" lengthAdjust="spacingAndGlyphs" >RSI(14) 31.3636</text><polygon points="6,53 15,53 10.5,48" fill="#000"/><text x="20.45" y="55" font-size="12.5" fill="#000" textLength="51.10" lengthAdjust="spacingAndGlyphs" >UKOil-,H4</text><text x="79.77" y="55" font-size="12.5" fill="#000" textLength="38.35" lengthAdjust="spacingAndGlyphs" >62.510</text><text x="122.67" y="55" font-size="12.5" fill="#000" textLength="38.35" lengthAdjust="spacingAndGlyphs" >62.790</text><text x="165.57" y="55" font-size="12.5" fill="#000" textLength="38.35" lengthAdjust="spacingAndGlyphs" >62.280</text><text x="208.47" y="55" font-size="12.5" fill="#000" textLength="38.76" lengthAdjust="spacingAndGlyphs" >62.310</text><text x="1271.5" y="421.5" font-size="53.5" letter-spacing="-3.1" fill="#ff2010" font-family="'Liberation Sans','Noto Sans CJK SC',sans-serif">多空转折点</text><text x="1524.88" y="418.9" font-size="55.8" fill="#ff2010" textLength="98.10" lengthAdjust="spacingAndGlyphs" >64.5</text><g shape-rendering="crispEdges"><rect x="4" y="61" width="287" height="80" fill="#ffffff" /><rect x="6" y="63" width="68" height="28" fill="#b00000" /><rect x="7" y="64" width="66" height="27" fill="url(#gTab)" /><rect x="221" y="63" width="68" height="28" fill="#b00000" /><rect x="222" y="64" width="66" height="27" fill="url(#gTab)" /><rect x="6" y="90" width="141" height="49" fill="#b00000" /><rect x="7" y="90" width="139" height="48" fill="url(#gBig)" /><rect x="149" y="90" width="140" height="49" fill="#b00000" /><rect x="150" y="90" width="138" height="48" fill="url(#gBig)" /><rect x="10" y="89" width="60" height="1" fill="#8c0000" /><rect x="225" y="89" width="60" height="1" fill="#8c0000" /><rect x="10" y="90" width="60" height="1" fill="#f08080" /><rect x="225" y="90" width="60" height="1" fill="#f08080" /><rect x="76" y="63" width="143" height="25" fill="#a3a6ad" /><rect x="77" y="64" width="141" height="23" fill="#ffffff" /><rect x="77" y="64" width="23" height="23" fill="url(#gBtn)" /><rect x="100" y="64" width="1" height="23" fill="#a3a6ad" /><rect x="194" y="64" width="1" height="23" fill="#a3a6ad" /><rect x="195" y="64" width="23" height="23" fill="url(#gBtn)" /></g><polygon points="85,74 92,74 88.5,78" fill="#5264b4"/><polygon points="203,77.5 210,77.5 206.5,73" fill="#5264b4"/><text x="159.71" y="80.8" font-size="15.1" fill="#000" textLength="30.87" lengthAdjust="spacingAndGlyphs" >1.00</text><text x="22.99" y="81.9" font-size="15" fill="#ffffff" textLength="33.13" lengthAdjust="spacingAndGlyphs" >SELL</text><text x="239.45" y="81.9" font-size="15" fill="#ffffff" textLength="29.56" lengthAdjust="spacingAndGlyphs" >BUY</text><text x="44.72" y="127.9" font-size="15.6" fill="#ffffff" textLength="18.38" lengthAdjust="spacingAndGlyphs" font-weight="bold" >62</text><text x="67.54" y="127.9" font-size="41.1" fill="#ffffff" textLength="43.41" lengthAdjust="spacingAndGlyphs" >31</text><text x="115.48" y="109.9" font-size="15.4" fill="#ffffff" textLength="9.95" lengthAdjust="spacingAndGlyphs" font-weight="bold" >0</text><text x="187.14" y="127.9" font-size="15.6" fill="#ffffff" textLength="17.95" lengthAdjust="spacingAndGlyphs" font-weight="bold" >62</text><text x="210.24" y="127.9" font-size="41.1" fill="#ffffff" textLength="43.41" lengthAdjust="spacingAndGlyphs" >38</text><text x="258.28" y="110.3" font-size="15.4" fill="#ffffff" textLength="10.07" lengthAdjust="spacingAndGlyphs" font-weight="bold" >0</text><rect x="357" y="5" width="31" height="29" fill="url(#dith)" /><rect x="357" y="5" width="31" height="1" fill="#a0a0a0" shape-rendering="crispEdges"/><rect x="357" y="5" width="1" height="29" fill="#a0a0a0" shape-rendering="crispEdges"/><rect x="388" y="5" width="1" height="29" fill="#ffffff" shape-rendering="crispEdges"/><rect x="357" y="33" width="32" height="1" fill="#ffffff" shape-rendering="crispEdges"/><text x="192.99" y="25.1" font-size="12" fill="#505050" textLength="17.57" lengthAdjust="spacingAndGlyphs" stroke="#505050" stroke-width="0.3">M1</text><text x="227.30" y="25.1" font-size="12" fill="#505050" textLength="17.39" lengthAdjust="spacingAndGlyphs" stroke="#505050" stroke-width="0.3">M5</text><text x="258.72" y="25.1" font-size="12" fill="#505050" textLength="23.77" lengthAdjust="spacingAndGlyphs" stroke="#505050" stroke-width="0.3">M15</text><text x="292.73" y="25.1" font-size="12" fill="#505050" textLength="23.60" lengthAdjust="spacingAndGlyphs" stroke="#505050" stroke-width="0.3">M30</text><text x="330.61" y="25.1" font-size="12" fill="#505050" textLength="15.78" lengthAdjust="spacingAndGlyphs" stroke="#505050" stroke-width="0.3">H1</text><text x="363.01" y="25.1" font-size="12" fill="#505050" textLength="17.45" lengthAdjust="spacingAndGlyphs" stroke="#505050" stroke-width="0.3">H4</text><text x="398.61" y="25.1" font-size="12" fill="#505050" textLength="15.90" lengthAdjust="spacingAndGlyphs" stroke="#505050" stroke-width="0.3">D1</text><text x="432.84" y="25.1" font-size="12" fill="#505050" textLength="18.31" lengthAdjust="spacingAndGlyphs" stroke="#505050" stroke-width="0.3">W1</text><text x="463.94" y="25.1" font-size="12" fill="#505050" textLength="20.62" lengthAdjust="spacingAndGlyphs" stroke="#505050" stroke-width="0.3">MN</text><rect x="177" y="4" width="1" height="32" fill="#a0a0a0" shape-rendering="crispEdges"/><rect x="178" y="4" width="1" height="32" fill="#ffffff" shape-rendering="crispEdges"/><rect x="492" y="4" width="1" height="32" fill="#a0a0a0" shape-rendering="crispEdges"/><rect x="493" y="4" width="1" height="32" fill="#ffffff" shape-rendering="crispEdges"/><g shape-rendering="crispEdges"><rect x="181" y="7" width="3" height="1" fill="#8c8c8c" /><rect x="181" y="9" width="3" height="1" fill="#8c8c8c" /><rect x="181" y="11" width="3" height="1" fill="#8c8c8c" /><rect x="181" y="13" width="3" height="1" fill="#8c8c8c" /><rect x="181" y="15" width="3" height="1" fill="#8c8c8c" /><rect x="181" y="17" width="3" height="1" fill="#8c8c8c" /><rect x="181" y="19" width="3" height="1" fill="#8c8c8c" /><rect x="181" y="21" width="3" height="1" fill="#8c8c8c" /><rect x="181" y="23" width="3" height="1" fill="#8c8c8c" /><rect x="181" y="25" width="3" height="1" fill="#8c8c8c" /><rect x="181" y="27" width="3" height="1" fill="#8c8c8c" /><rect x="181" y="29" width="3" height="1" fill="#8c8c8c" /><rect x="181" y="31" width="3" height="1" fill="#8c8c8c" /><rect x="181" y="33" width="3" height="1" fill="#8c8c8c" /></g><g fill="none" stroke-linecap="round"><line x1="1.2" y1="22.2" x2="11.2" y2="12.6" stroke="#6a6a6a" stroke-width="1.2"/><line x1="7.6" y1="28.6" x2="19" y2="18.2" stroke="#6a6a6a" stroke-width="1.2"/><polyline points="3,27.3 4.7,19.5 5,24.5 8.3,18.4 8.4,24 12.2,16.2 12.6,22 15.8,10.3 16.6,16 18.2,13.5" stroke="#4a4a4a" stroke-width="1.3" stroke-linejoin="round"/></g><text x="14.60" y="32" font-size="9.5" fill="#555555" textLength="6.14" lengthAdjust="spacingAndGlyphs" font-weight="bold" >E</text><g><rect x="37.0" y="11.2" width="1.1" height="1.6" fill="#555" /><rect x="39.5" y="11.2" width="1.1" height="1.6" fill="#8a8a8a" /><rect x="42.0" y="11.2" width="1.1" height="1.6" fill="#555" /><rect x="44.5" y="11.2" width="1.1" height="1.6" fill="#8a8a8a" /><rect x="47.0" y="11.2" width="1.1" height="1.6" fill="#555" /><rect x="49.5" y="11.2" width="1.1" height="1.6" fill="#8a8a8a" /><rect x="52.0" y="11.2" width="1.1" height="1.6" fill="#555" /><rect x="37.0" y="15.2" width="1.1" height="1.6" fill="#555" /><rect x="39.5" y="15.2" width="1.1" height="1.6" fill="#8a8a8a" /><rect x="42.0" y="15.2" width="1.1" height="1.6" fill="#555" /><rect x="44.5" y="15.2" width="1.1" height="1.6" fill="#8a8a8a" /><rect x="47.0" y="15.2" width="1.1" height="1.6" fill="#555" /><rect x="49.5" y="15.2" width="1.1" height="1.6" fill="#8a8a8a" /><rect x="52.0" y="15.2" width="1.1" height="1.6" fill="#555" /><rect x="37.0" y="20.2" width="1.1" height="1.6" fill="#555" /><rect x="39.5" y="20.2" width="1.1" height="1.6" fill="#8a8a8a" /><rect x="42.0" y="20.2" width="1.1" height="1.6" fill="#555" /><rect x="44.5" y="20.2" width="1.1" height="1.6" fill="#8a8a8a" /><rect x="47.0" y="20.2" width="1.1" height="1.6" fill="#555" /><rect x="49.5" y="20.2" width="1.1" height="1.6" fill="#8a8a8a" /><rect x="52.0" y="20.2" width="1.1" height="1.6" fill="#555" /><rect x="37.0" y="25.2" width="1.1" height="1.6" fill="#555" /><rect x="39.5" y="25.2" width="1.1" height="1.6" fill="#8a8a8a" /><rect x="42.0" y="25.2" width="1.1" height="1.6" fill="#555" /><rect x="44.5" y="25.2" width="1.1" height="1.6" fill="#8a8a8a" /><rect x="47.0" y="25.2" width="1.1" height="1.6" fill="#555" /></g><text x="48.56" y="32" font-size="9.5" fill="#555555" textLength="5.99" lengthAdjust="spacingAndGlyphs" font-weight="bold" >F</text><text x="73.74" y="26.9" font-size="16.5" fill="#555555" textLength="10.46" lengthAdjust="spacingAndGlyphs" font-weight="bold" >A</text><g><rect x="106" y="12" width="1" height="1" fill="#555" /><rect x="106" y="28" width="1" height="1" fill="#555" /><rect x="108" y="12" width="1" height="1" fill="#555" /><rect x="108" y="28" width="1" height="1" fill="#555" /><rect x="110" y="12" width="1" height="1" fill="#555" /><rect x="110" y="28" width="1" height="1" fill="#555" /><rect x="112" y="12" width="1" height="1" fill="#555" /><rect x="112" y="28" width="1" height="1" fill="#555" /><rect x="114" y="12" width="1" height="1" fill="#555" /><rect x="114" y="28" width="1" height="1" fill="#555" /><rect x="116" y="12" width="1" height="1" fill="#555" /><rect x="116" y="28" width="1" height="1" fill="#555" /><rect x="118" y="12" width="1" height="1" fill="#555" /><rect x="118" y="28" width="1" height="1" fill="#555" /><rect x="120" y="12" width="1" height="1" fill="#555" /><rect x="120" y="28" width="1" height="1" fill="#555" /><rect x="106" y="14" width="1" height="1" fill="#555" /><rect x="120" y="14" width="1" height="1" fill="#555" /><rect x="106" y="16" width="1" height="1" fill="#555" /><rect x="120" y="16" width="1" height="1" fill="#555" /><rect x="106" y="18" width="1" height="1" fill="#555" /><rect x="120" y="18" width="1" height="1" fill="#555" /><rect x="106" y="20" width="1" height="1" fill="#555" /><rect x="120" y="20" width="1" height="1" fill="#555" /><rect x="106" y="22" width="1" height="1" fill="#555" /><rect x="120" y="22" width="1" height="1" fill="#555" /><rect x="106" y="24" width="1" height="1" fill="#555" /><rect x="120" y="24" width="1" height="1" fill="#555" /><rect x="106" y="26" width="1" height="1" fill="#555" /><rect x="120" y="26" width="1" height="1" fill="#555" /><rect x="104" y="11" width="2" height="2" fill="#666" /></g><rect x="108.5" y="16.3" width="10" height="2" fill="#707070" /><rect x="112.5" y="16.3" width="2" height="11" fill="#707070" /><polygon points="138.5,18 148,18 143.2,12.5" fill="#5a5a5a"/><polygon points="147.5,23.8 156.5,23.8 152,29" fill="#5a5a5a"/><polyline points="141.3,21.5 144.5,25 149.8,18" fill="none" stroke="#5a5a5a" stroke-width="1.4"/><polygon points="161.8,19 169.2,19 165.5,23" fill="#000"/></svg>
</body></html>
